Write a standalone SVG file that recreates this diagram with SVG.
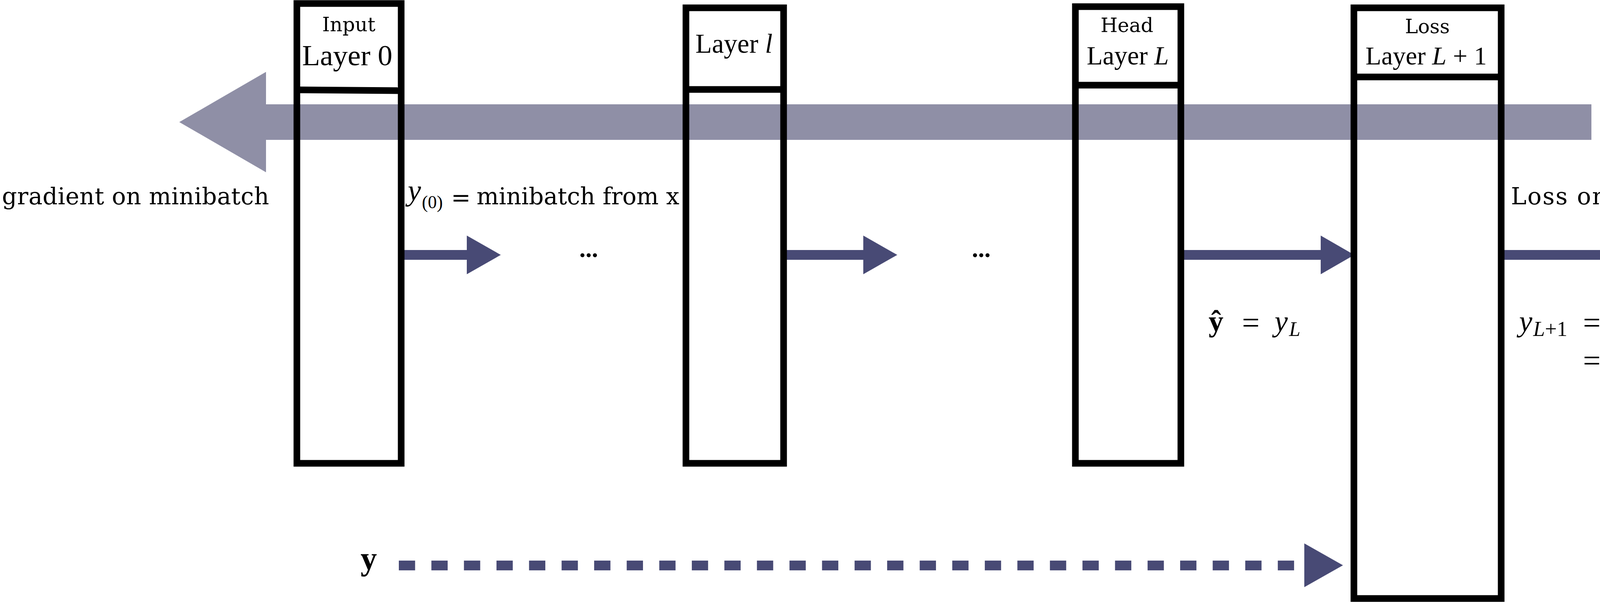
<svg xmlns="http://www.w3.org/2000/svg" width="4467" height="1541" viewBox="0 0 4467 1541">
<style>
.box{fill:none;stroke:#000;stroke-width:17}
.div{stroke:#000;stroke-width:17}
.cs{font-family:"DejaVu Serif","Liberation Serif",serif;fill:#000}
.m{font-family:"Liberation Serif","DejaVu Serif","DejaVu Sans",serif;fill:#000}
.it{font-style:italic}
.bf{font-weight:bold}
.fwd{fill:#484a75}
.dash{stroke:#484a75;stroke-width:25;stroke-dasharray:41.67 41.67;fill:none}
</style>
<rect width="4467" height="1541" fill="#fff"/>
<g id="backward">
<polygon points="459,312.5 681,184 681,267 4074,267 4074,358 681,358 681,441" fill="#8f8fa6"/>
<text class="cs" x="5" y="523" font-size="60" textLength="684" lengthAdjust="spacing">gradient on minibatch</text>
</g>
<g id="connectors">
<g id="a1"><rect class="fwd" x="1027" y="640" width="169" height="25"/><polygon class="fwd" points="1195,603 1282,652.5 1195,702"/></g>
<g id="a2"><rect class="fwd" x="2006" y="640" width="205" height="25"/><polygon class="fwd" points="2210,603 2297,652.5 2210,702"/></g>
<g id="a3"><rect class="fwd" x="3023" y="640" width="359" height="25"/><polygon class="fwd" points="3381,603 3467,652.5 3381,702"/></g>
<g id="a4"><rect class="fwd" x="3843" y="640" width="324" height="25"/><polygon class="fwd" points="4166,603 4252,652.5 4166,702"/></g>
<g id="a5"><line class="dash" x1="1021" y1="1447.5" x2="3313" y2="1447.5"/><polygon class="fwd" points="3339,1391 3438,1447 3339,1503"/></g>
<text class="m bf" x="1507" y="658" font-size="64" text-anchor="middle">...</text>
<text class="m bf" x="2512" y="658" font-size="64" text-anchor="middle">...</text>
<text class="m it" x="1044" y="513" font-size="76">y</text>
<text class="m" x="1080" y="533" font-size="46">(0)</text>
<text class="cs" x="1180" y="526" font-size="60" text-anchor="middle">=</text>
<text class="cs" x="1220" y="523" font-size="60" textLength="519" lengthAdjust="spacing">minibatch from x</text>
<text class="cs" x="3868" y="523" font-size="60" textLength="595" lengthAdjust="spacing">Loss on minibatch</text>
<text class="m bf" x="3094" y="848" font-size="76">ŷ</text>
<text class="m" x="3202" y="853" font-size="80" text-anchor="middle">=</text>
<text class="m it" x="3263" y="848" font-size="76">y</text>
<text class="m it" x="3300" y="860" font-size="52">L</text>
<text class="m it" x="3889" y="848" font-size="76">y</text>
<text class="m" x="3925" y="860" font-size="54"><tspan class="it">L</tspan>+1</text>
<text class="m" x="4075" y="853" font-size="80" text-anchor="middle">=</text>
<text class="m it" x="4119" y="848" font-size="76">ℒ</text>
<text class="m" x="4075" y="950" font-size="80" text-anchor="middle">=</text>
<text class="m" x="4129" y="945" font-size="76" textLength="315" lengthAdjust="spacing"><tspan class="it">L</tspan>(<tspan class="bf">ŷ</tspan>, <tspan class="it">y</tspan>; <tspan class="it">W</tspan>)</text>
<text class="m bf" x="923" y="1458" font-size="84">y</text>
</g>
<g id="input">
<rect class="box" x="760" y="9" width="267" height="1177"/>
<line class="div" x1="760" y1="230" x2="1027" y2="232"/>
<text class="cs" x="893" y="80" font-size="50" text-anchor="middle">Input</text>
<text class="m" x="889" y="167" font-size="75" text-anchor="middle">Layer 0</text>
</g>
<g id="layer-l">
<rect class="box" x="1756" y="20" width="250" height="1166"/>
<line class="div" x1="1756" y1="229" x2="2006" y2="229"/>
<text class="m" x="1879" y="135" font-size="69" text-anchor="middle">Layer <tspan class="it">l</tspan></text>
</g>
<g id="head">
<rect class="box" x="2753" y="17" width="270" height="1169"/>
<line class="div" x1="2753" y1="218" x2="3023" y2="218"/>
<text class="cs" x="2885" y="82" font-size="50" text-anchor="middle">Head</text>
<text class="m" x="2887" y="165" font-size="67" text-anchor="middle">Layer <tspan class="it">L</tspan></text>
</g>
<g id="loss">
<rect class="box" x="3466" y="20" width="377" height="1512"/>
<line class="div" x1="3466" y1="197" x2="3843" y2="197"/>
<text class="cs" x="3654" y="85" font-size="50" text-anchor="middle">Loss</text>
<text class="m" x="3651" y="165" font-size="66" text-anchor="middle">Layer <tspan class="it">L</tspan> + 1</text>
</g>
</svg>
